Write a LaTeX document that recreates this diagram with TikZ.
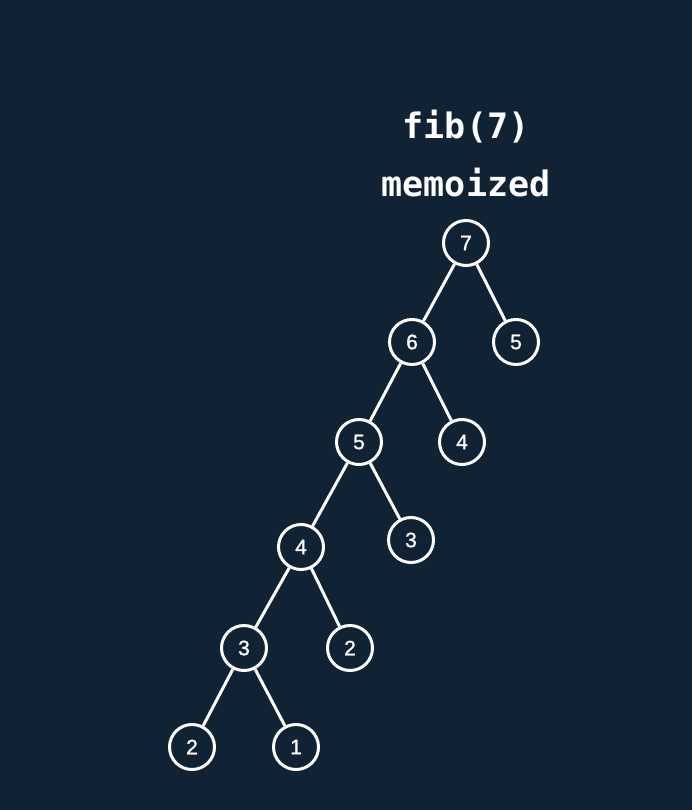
\documentclass[tikz,border=0pt]{standalone}
\usepackage{fontspec}
\setmainfont{Liberation Sans}
\newfontfamily\titlefont{DejaVu Sans Mono}
\newfontfamily\numfont[BoldFont={Liberation Sans},BoldFeatures={FakeBold=1.2}]{Liberation Sans}
\definecolor{bgnavy}{RGB}{16,35,52}
\begin{document}
\begin{tikzpicture}[x=1pt,y=-1pt,
  fibnode/.style={circle,draw=white,line width=3pt,minimum size=45pt,inner sep=0pt,
    text=white,font=\numfont\bfseries\fontsize{21}{21}\selectfont},
  edge/.style={draw=white,line width=3pt},
  titletext/.style={text=white,font=\titlefont\bfseries\fontsize{35}{35}\selectfont,anchor=base}]
\fill[bgnavy] (0,0) rectangle (692,810);
\useasboundingbox (0,0) rectangle (692,810);
\node[titletext] (t1) at (466,139) {fib(7)};
\node[titletext] (t2) at (466,197) {memoized};
\node[fibnode] (n7) at (466,243) {7};
\node[fibnode] (n6) at (412,342) {6};
\node[fibnode] (n5b) at (516,342) {5};
\node[fibnode] (n5) at (359,442) {5};
\node[fibnode] (n4b) at (462,442) {4};
\node[fibnode] (n4) at (301,547) {4};
\node[fibnode] (n3b) at (411,540) {3};
\node[fibnode] (n3) at (244,648) {3};
\node[fibnode] (n2b) at (350,648) {2};
\node[fibnode] (n2) at (192,747) {2};
\node[fibnode] (n1) at (296,747) {1};
\draw[edge] (n7) -- (n6);
\draw[edge] (n7) -- (n5b);
\draw[edge] (n6) -- (n5);
\draw[edge] (n6) -- (n4b);
\draw[edge] (n5) -- (n4);
\draw[edge] (n5) -- (n3b);
\draw[edge] (n4) -- (n3);
\draw[edge] (n4) -- (n2b);
\draw[edge] (n3) -- (n2);
\draw[edge] (n3) -- (n1);
\end{tikzpicture}
\end{document}
